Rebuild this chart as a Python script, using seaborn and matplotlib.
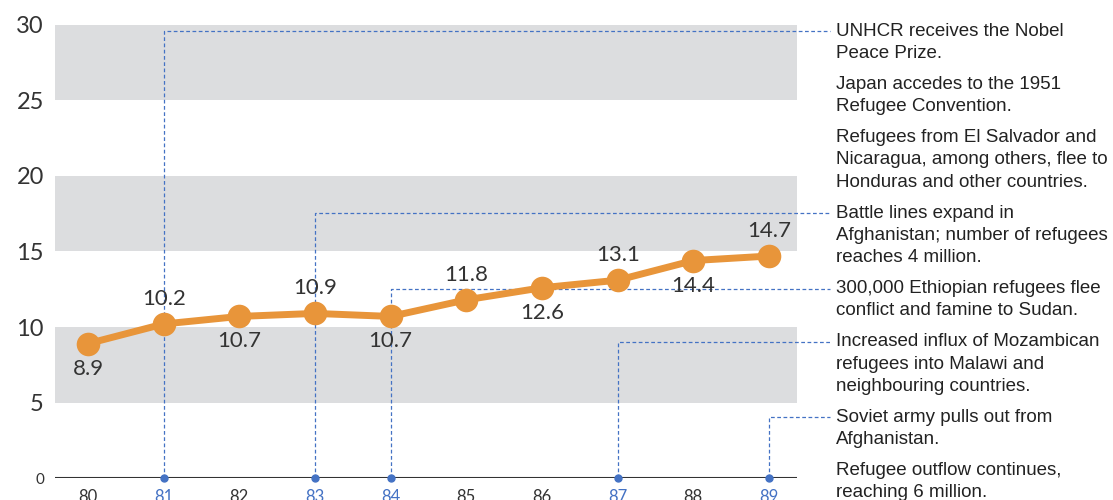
import numpy as np
import pandas as pd
import seaborn as sns
import matplotlib.pyplot as plt

# data
years = ["80", "81", "82", "83", "84", "85", "86", "87", "88", "89"]
refugees = [8.9, 10.2, 10.7, 10.9, 10.7, 11.8, 12.6, 13.1, 14.4, 14.7]
label_side = [-1, 1, -1, 1, -1, 1, -1, 1, -1, 1]

# events: year index (None = no connector) and text lines
event_years = [1, None, None, 3, 4, 7, 9, None]
event_texts = [
    ["UNHCR receives the Nobel", "Peace Prize."],
    ["Japan accedes to the 1951", "Refugee Convention."],
    ["Refugees from El Salvador and", "Nicaragua, among others, flee to", "Honduras and other countries."],
    ["Battle lines expand in", "Afghanistan; number of refugees", "reaches 4 million."],
    ["300,000 Ethiopian refugees flee", "conflict and famine to Sudan."],
    ["Increased influx of Mozambican", "refugees into Malawi and", "neighbouring countries."],
    ["Soviet army pulls out from", "Afghanistan."],
    ["Refugee outflow continues,", "reaching 6 million."],
]

orange = "#E8953A"
blue = "#4472C4"
grey = "#DCDDDF"
dark = "#333333"

sns.set_style("white")
plt.rcParams["font.family"] = ["Lato", "DejaVu Sans"]

W, H = 1113, 500
fig = plt.figure(figsize=(W / 100, H / 100), dpi=100)
ax = fig.add_axes([55 / W, 22 / H, 742 / W, 453 / H])
ax.set_xlim(-0.436, 9.37)
ax.set_ylim(0, 30)

for lo, hi in [(5, 10), (15, 20), (25, 30)]:
    ax.axhspan(lo, hi, color=grey, lw=0, zorder=0)

ax.axhline(0, color=dark, lw=1.5, zorder=2)

df = pd.DataFrame({"x": np.arange(len(years)), "y": refugees})
sns.lineplot(data=df, x="x", y="y", ax=ax, color=orange, lw=5,
             marker="o", markersize=17, markeredgewidth=0, zorder=5)

for i, (v, s) in enumerate(zip(refugees, label_side)):
    ax.annotate(f"{v}", (i, v), xytext=(0, 18 * s), textcoords="offset points",
                ha="center", va="center", fontsize=16, color=dark, zorder=6)

for s in ax.spines.values():
    s.set_visible(False)

ax.set_xlabel("")
ax.set_ylabel("")
ax.set_xticks(range(len(years)))
ax.set_xticklabels(years, fontsize=12)
ax.tick_params(axis="x", length=0, pad=8)
for i, t in enumerate(ax.get_xticklabels()):
    t.set_color(blue if i in event_years else dark)

ax.set_yticks([0, 5, 10, 15, 20, 25, 30])
ax.set_yticklabels(["0", "5", "10", "15", "20", "25", "30"], fontsize=17, color=dark)
ax.tick_params(axis="y", length=0, pad=8)
ax.get_yticklabels()[0].set_fontsize(11)


def px_to_data(px, py):
    return ax.transData.inverted().transform((px, H - py))


# event text column and connectors
text_x = 836
py = 31
line_h = 22.4
gap = 8.4
for yr, lines in zip(event_years, event_texts):
    first = py
    for ln in lines:
        fig.text(text_x / W, 1 - py / H, ln, fontsize=13.5, color="#222222",
                 ha="left", va="center", family=["Liberation Sans", "DejaVu Sans"])
        py += line_h
    py += gap
    if yr is not None:
        xe, ye = px_to_data(830, first)
        ax.plot([yr, yr, xe], [0, ye, ye], color=blue, lw=0.9,
                ls=(0, (3, 2)), clip_on=False, zorder=3)
        ax.plot([yr], [0], "o", color=blue, ms=5, clip_on=False, zorder=4)

fig.savefig("out.png", dpi=100)
